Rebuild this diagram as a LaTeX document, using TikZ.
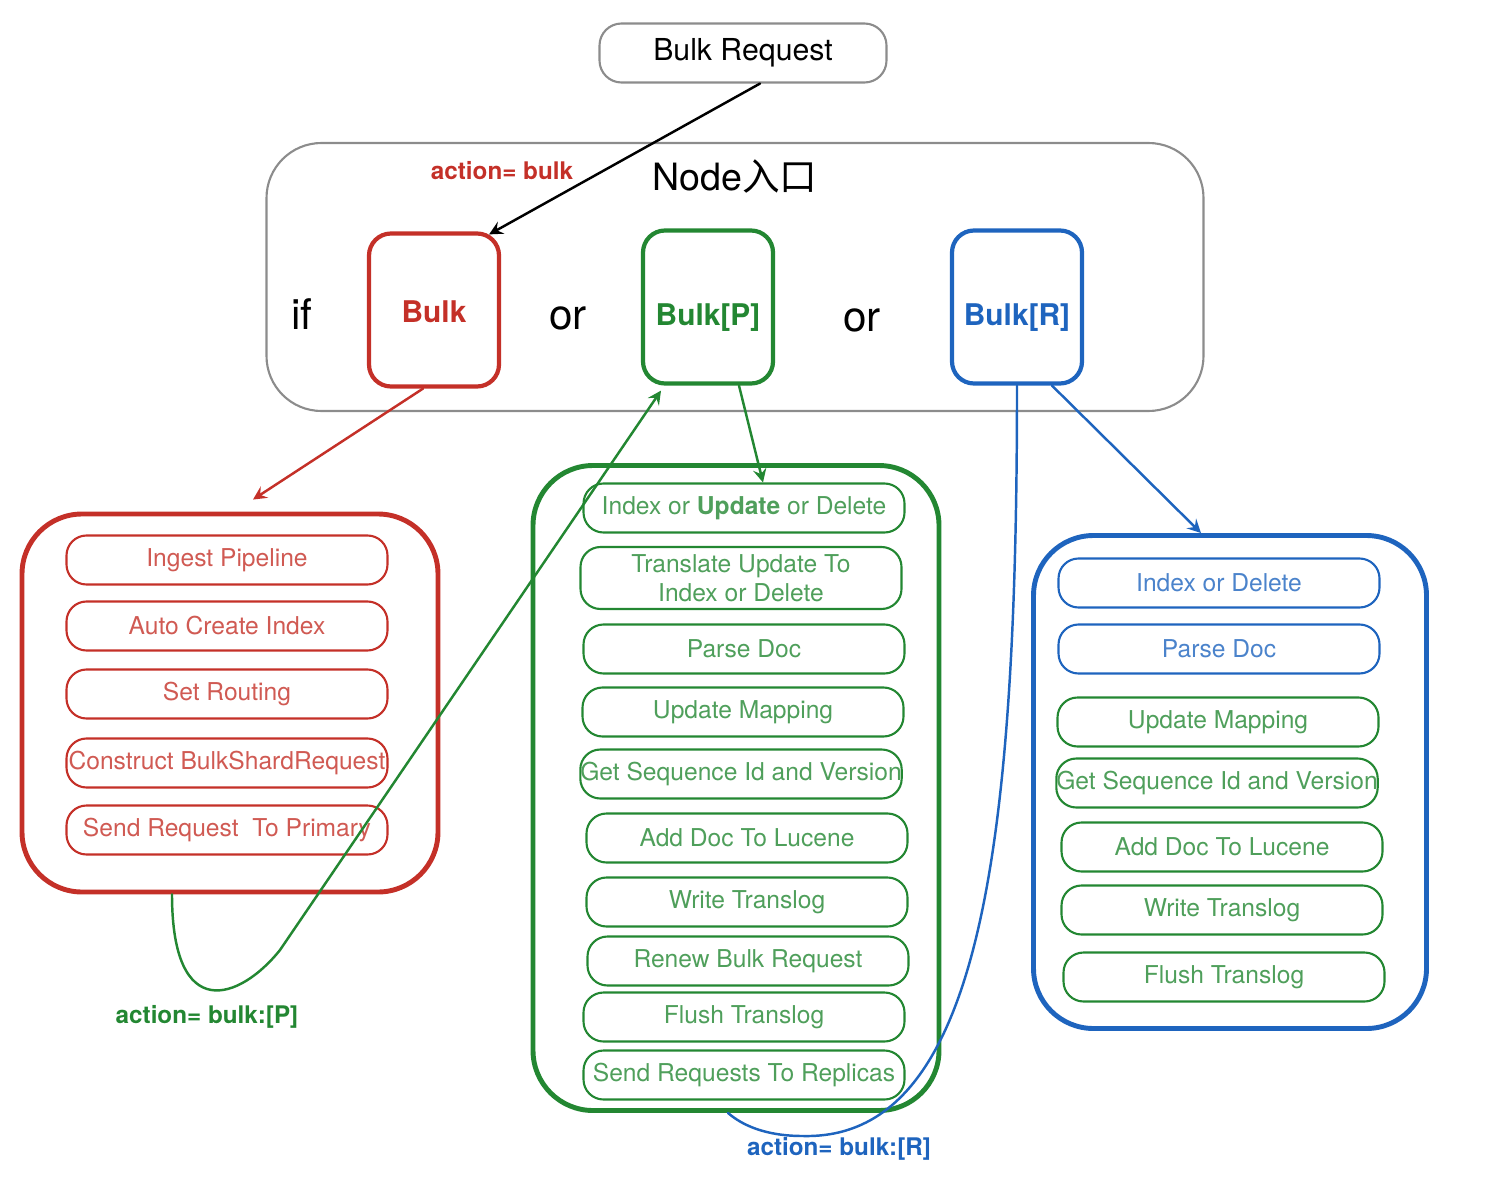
\documentclass[tikz,border=0pt]{standalone}
\usepackage{fontspec}
\setmainfont{TeX Gyre Heros}
\newfontfamily\cjkfont{Noto Sans CJK SC}
\usetikzlibrary{calc}
\definecolor{redc}{RGB}{196,48,40}
\definecolor{greenc}{RGB}{35,135,50}
\definecolor{bluec}{RGB}{30,100,190}
\definecolor{grayc}{RGB}{140,140,140}
\begin{document}
\begin{tikzpicture}[>=stealth,line join=round,line cap=round,x=0.1mm,y=-0.1mm,
	font=\fontsize{7}{8.4}\selectfont,
	stepbox/.style={draw=#1,text=#1!80!white,line width=0.6pt,rounded corners=2mm,
		minimum width=3.21cm,minimum height=4.9mm,inner sep=0pt,align=center},
	bulkbox/.style={draw=#1,text=#1,line width=1.2pt,rounded corners=2.2mm,text height=0.72em,text depth=0pt,
		minimum width=1.3cm,minimum height=1.53cm,font=\fontsize{8.5}{10}\selectfont\bfseries},
	groupbox/.style={draw=#1,line width=1.4pt,rounded corners=6mm},
	actlabel/.style={text=#1,font=\fontsize{6.9}{8}\selectfont\bfseries},
	bigword/.style={font=\fontsize{12}{14}\selectfont}]
	\useasboundingbox (0,0) rectangle (1500,1200);
	% entry
	\node[draw=grayc,line width=0.6pt,rounded corners=2.2mm,minimum width=2.87cm,minimum height=5.9mm,
		font=\fontsize{8.6}{10}\selectfont] (breq) at (743,53) {\raisebox{-0.15em}{Bulk Request}};
	\node[draw=grayc,line width=0.6pt,rounded corners=5.5mm,minimum width=9.37cm,minimum height=2.68cm] (entry) at (735,277) {};
	\node[font=\fontsize{10.7}{12}\selectfont] (ntitle) at (735,176) {Node{\cjkfont 入口}};
	\node[bigword] (wif) at (302,314) {if};
	\node[bigword] (wor1) at (568,318) {or};
	\node[bigword] (wor2) at (862,320) {or};
	\node[bulkbox=redc] (bulk) at (434,310) {Bulk};
	\node[bulkbox=greenc] (bulkP) at (708,307) {\raisebox{-0.2em}{Bulk[P]}};
	\node[bulkbox=bluec] (bulkR) at (1017,307) {\raisebox{-0.2em}{Bulk[R]}};
	% groups
	\node[groupbox=redc,minimum width=4.16cm,minimum height=3.78cm] (rbox) at (230,703) {};
	\node[groupbox=greenc,minimum width=4.06cm,minimum height=6.45cm] (gbox) at (736,788) {};
	\node[groupbox=bluec,minimum width=3.93cm,minimum height=4.93cm] (bbox) at (1230,782) {};
	\foreach \y/\txt [count=\i] in {560/Ingest Pipeline,626/Auto Create Index,694/Set Routing,
		763/Construct BulkShardRequest,830/Send Request\ \ To Primary}
	\node[stepbox=redc] (r\i) at (227,\y) {\txt};
	\foreach \x/\y/\h/\txt [count=\i] in {744/508/4.9/Index or \textbf{Update} or Delete,
		741/578/6.2/Translate Update To\\Index or Delete,744/649/4.9/Parse Doc,743/712/4.9/Update Mapping,
		741/774/4.9/Get Sequence Id and Version,747/838/4.9/Add Doc To Lucene,747/902/4.9/Write Translog,
		748/961/4.9/Renew Bulk Request,744/1017/4.9/Flush Translog,744/1075/4.9/Send Requests To Replicas}
	\node[stepbox=greenc,minimum height=\h mm] (g\i) at (\x,\y) {\txt};
	\foreach \x/\y/\c/\txt [count=\i] in {1219/583/bluec/Index or Delete,1219/649/bluec/Parse Doc,
		1218/722/greenc/Update Mapping,1217/783/greenc/Get Sequence Id and Version,
		1222/847/greenc/Add Doc To Lucene,1222/910/greenc/Write Translog,1224/977/greenc/Flush Translog}
	\node[stepbox=\c] (b\i) at (\x,\y) {\txt};
	% labels
	\node[actlabel=redc] (lbulk) at (502,171) {action= bulk};
	\node[actlabel=greenc] (lprim) at (207,1017) {action= bulk:[P]};
	\node[actlabel=bluec] (lrep) at (839,1149) {action= bulk:[R]};
	% arrows
	\draw[->,line width=0.7pt] ($(breq.south)+(17,0)$) -- ($(bulk.north east)+(-12,3)$);
	\draw[->,redc,line width=0.7pt] ($(bulk.south)+(-11,0)$) -- ($(rbox.north)+(23,-12)$);
	\draw[->,greenc,line width=0.7pt] ($(bulkP.south)+(31,0)$) -- ($(g1.north)+(19,0)$);
	\draw[->,bluec,line width=0.7pt] ($(bulkR.south)+(35,0)$) -- ($(bbox.north)+(-29,0)$);
	\coordinate (pfoot) at ($(rbox.south)+(-58,0)$);
	\coordinate (rfoot) at ($(gbox.south)+(-8,0)$);
	\draw[->,greenc,line width=0.7pt] (pfoot) .. controls (172,1025) and (240,1000) .. (280,950)
		-- ($(bulkP.south)+(-47,5)$);
	\draw[bluec,line width=0.7pt] (bulkR.south) .. controls (1017,850) and (980,1140) .. (803,1136)
		.. controls (765,1136) and (742,1125) .. (rfoot);
\end{tikzpicture}
\end{document}
